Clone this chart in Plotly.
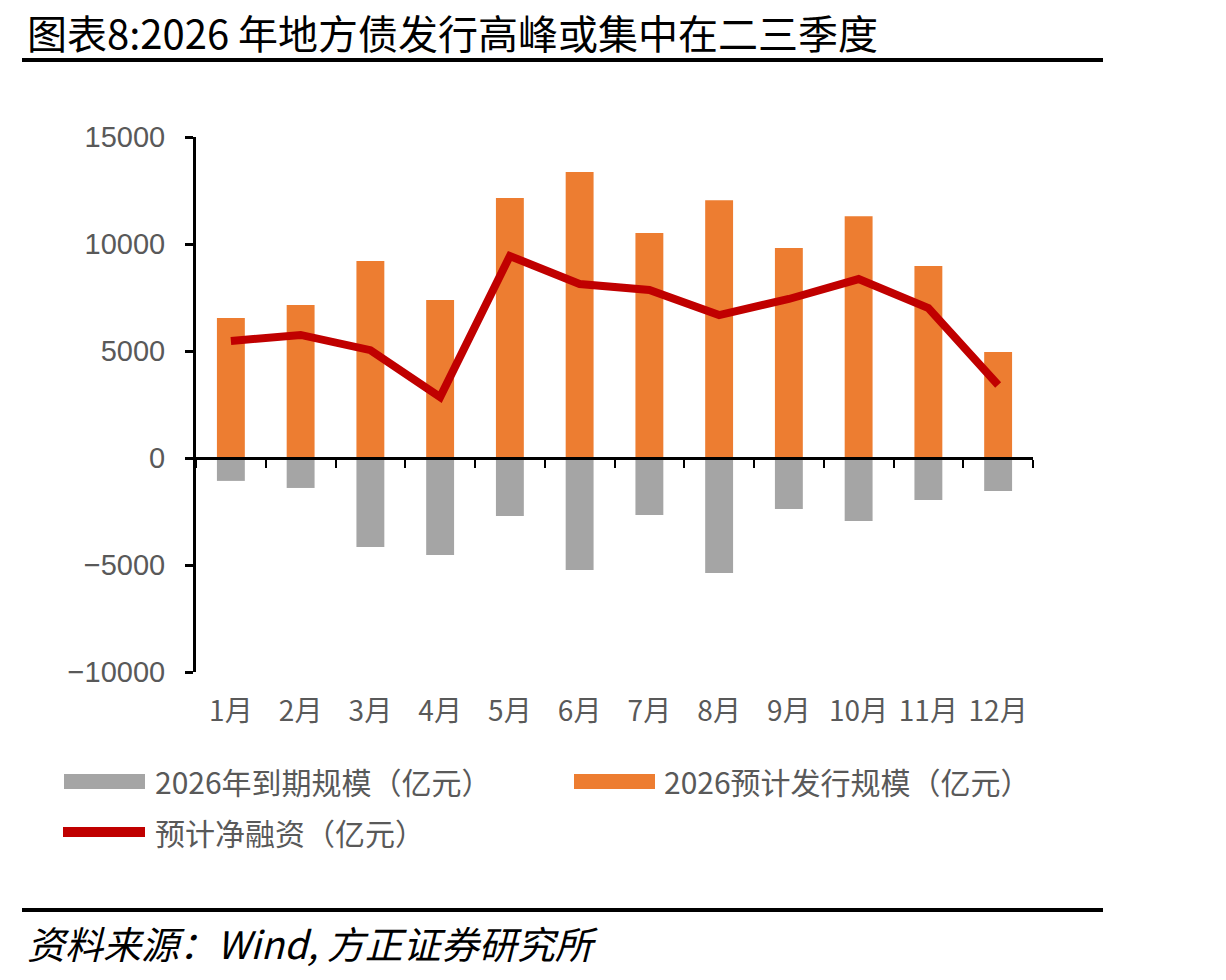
import plotly.graph_objects as go

months = ["1月", "2月", "3月", "4月", "5月", "6月", "7月", "8月", "9月", "10月", "11月", "12月"]
maturity = [-1070, -1400, -4160, -4530, -2710, -5230, -2660, -5370, -2380, -2940, -1960, -1540]
issuance = [6540, 7150, 9200, 7380, 12150, 13360, 10510, 12050, 9810, 11300, 8970, 4950]
net_financing = [5470, 5750, 5040, 2850, 9440, 8130, 7850, 6680, 7430, 8360, 7010, 3410]
y_ticks = [-10000, -5000, 0, 5000, 10000, 15000]
y_tick_text = ["\u221210000", "\u22125000", "0", "5000", "10000", "15000"]
series_names = ["2026年到期规模（亿元）", "2026预计发行规模（亿元）", "预计净融资（亿元）"]
series_colors = ["#A5A5A5", "#ED7D31", "#C00000"]

W, H = 1226, 980
L, R, T, B = 196, 193, 137, 308
PW, PH = W - L - R, H - T - B


def px_x(p):
    return (p - L) / PW


def px_y(p):
    return (H - B - p) / PH


CJK = "Noto Sans CJK SC"
GRAY_TXT = "#595959"

fig = go.Figure()
fig.add_trace(go.Bar(x=months, y=maturity, name=series_names[0],
                     marker=dict(color=series_colors[0], line=dict(width=0)), width=0.4,
                     xaxis="x", yaxis="y", showlegend=False))
fig.add_trace(go.Bar(x=months, y=issuance, name=series_names[1],
                     marker=dict(color=series_colors[1], line=dict(width=0)), width=0.4,
                     xaxis="x", yaxis="y", showlegend=False))
fig.add_trace(go.Scatter(x=months, y=net_financing, name=series_names[2], mode="lines",
                         line=dict(color=series_colors[2], width=8), xaxis="x2", yaxis="y",
                         showlegend=False))

# custom legend (swatches + labels) placed below the plot, as in the reference
legend_shapes = [
    dict(type="rect", xref="paper", yref="paper", x0=px_x(64), x1=px_x(145),
         y0=px_y(774), y1=px_y(789), fillcolor=series_colors[0], line=dict(width=0)),
    dict(type="rect", xref="paper", yref="paper", x0=px_x(574), x1=px_x(655),
         y0=px_y(774), y1=px_y(789), fillcolor=series_colors[1], line=dict(width=0)),
    dict(type="line", xref="paper", yref="paper", x0=px_x(63), x1=px_x(145),
         y0=px_y(832), y1=px_y(832), line=dict(color=series_colors[2], width=10)),
]
legend_labels = [
    dict(text=series_names[0], x=px_x(153), y=px_y(781)),
    dict(text=series_names[1], x=px_x(662), y=px_y(781)),
    dict(text=series_names[2], x=px_x(153), y=px_y(832)),
]
legend_annots = [
    dict(text=d["text"], xref="paper", yref="paper", x=d["x"], y=d["y"],
         xanchor="left", yanchor="middle", showarrow=False,
         font=dict(family=CJK, size=30, color=GRAY_TXT))
    for d in legend_labels
]

fig.update_layout(
    width=W, height=H,
    margin=dict(l=L, r=R, t=T, b=B, autoexpand=False),
    paper_bgcolor="white", plot_bgcolor="white",
    barmode="relative",
    showlegend=False,
    xaxis=dict(type="category", categoryorder="array", categoryarray=months,
               range=[-0.5, 11.5], anchor="free", position=0.4,
               showline=True, linecolor="black", linewidth=3,
               ticks="outside", tickson="boundaries", ticklen=8, tickwidth=2, tickcolor="black",
               showticklabels=False, showgrid=False, zeroline=False, automargin=False),
    xaxis2=dict(type="category", categoryorder="array", categoryarray=months,
                range=[-0.5, 11.5], overlaying="x", matches="x", anchor="y", side="bottom",
                showline=False, ticks="", showticklabels=True, showgrid=False, zeroline=False,
                tickfont=dict(family=CJK, size=28, color=GRAY_TXT),
                ticklabelstandoff=20, automargin=False),
    yaxis=dict(range=[-10000, 15000], tickmode="array", tickvals=y_ticks, ticktext=y_tick_text,
               showline=True, linecolor="black",
               linewidth=3, ticks="outside", ticklen=8, tickwidth=3, tickcolor="black",
               showgrid=False, zeroline=False, automargin=False,
               tickfont=dict(family="Liberation Sans, Arial", size=29, color=GRAY_TXT),
               ticklabelstandoff=14),
    shapes=[
        dict(type="line", xref="paper", yref="paper", x0=px_x(22), x1=px_x(1103),
             y0=px_y(60), y1=px_y(60), line=dict(color="black", width=4)),
        dict(type="line", xref="paper", yref="paper", x0=px_x(22), x1=px_x(1103),
             y0=px_y(910), y1=px_y(910), line=dict(color="black", width=4)),
    ] + legend_shapes,
    annotations=[
        dict(text="图表8:2026 年地方债发行高峰或集中在二三季度", xref="paper", yref="paper",
             x=px_x(25), y=px_y(1), xanchor="left", yanchor="top", showarrow=False,
             font=dict(family=CJK, size=40, color="black")),
        dict(text="资料来源：Wind, 方正证券研究所", xref="paper", yref="paper",
             x=px_x(25), y=px_y(943), xanchor="left", yanchor="middle", showarrow=False,
             font=dict(family=CJK, size=38, color="black", style="italic")),
    ] + legend_annots,
)

fig.write_html("out.html")
